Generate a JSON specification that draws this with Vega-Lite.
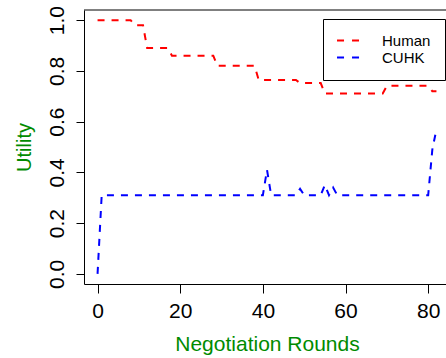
{
  "$schema": "https://vega.github.io/schema/vega-lite/v6.json",
  "width": 362,
  "height": 274,
  "autosize": "none",
  "padding": {"left": 84, "top": 10, "right": 0, "bottom": 74},
  "background": "white",
  "config": {"view": {"stroke": null}, "font": "Liberation Sans"},
  "data": {
    "values": [
      {"r": 0, "a": "Human", "u": 1.0}, {"r": 1, "a": "Human", "u": 1.0}, {"r": 2, "a": "Human", "u": 1.0},
      {"r": 3, "a": "Human", "u": 1.0}, {"r": 4, "a": "Human", "u": 1.0}, {"r": 5, "a": "Human", "u": 1.0},
      {"r": 6, "a": "Human", "u": 1.0}, {"r": 7, "a": "Human", "u": 1.0}, {"r": 8, "a": "Human", "u": 1.0},
      {"r": 9, "a": "Human", "u": 0.98}, {"r": 10, "a": "Human", "u": 0.98}, {"r": 11, "a": "Human", "u": 0.98},
      {"r": 12, "a": "Human", "u": 0.89}, {"r": 13, "a": "Human", "u": 0.89}, {"r": 14, "a": "Human", "u": 0.89},
      {"r": 15, "a": "Human", "u": 0.89}, {"r": 16, "a": "Human", "u": 0.89}, {"r": 17, "a": "Human", "u": 0.89},
      {"r": 18, "a": "Human", "u": 0.86}, {"r": 19, "a": "Human", "u": 0.86}, {"r": 20, "a": "Human", "u": 0.86},
      {"r": 21, "a": "Human", "u": 0.86}, {"r": 22, "a": "Human", "u": 0.86}, {"r": 23, "a": "Human", "u": 0.86},
      {"r": 24, "a": "Human", "u": 0.86}, {"r": 25, "a": "Human", "u": 0.86}, {"r": 26, "a": "Human", "u": 0.86},
      {"r": 27, "a": "Human", "u": 0.86}, {"r": 28, "a": "Human", "u": 0.86}, {"r": 29, "a": "Human", "u": 0.82},
      {"r": 30, "a": "Human", "u": 0.82}, {"r": 31, "a": "Human", "u": 0.82}, {"r": 32, "a": "Human", "u": 0.82},
      {"r": 33, "a": "Human", "u": 0.82}, {"r": 34, "a": "Human", "u": 0.82}, {"r": 35, "a": "Human", "u": 0.82},
      {"r": 36, "a": "Human", "u": 0.82}, {"r": 37, "a": "Human", "u": 0.82}, {"r": 38, "a": "Human", "u": 0.82},
      {"r": 39, "a": "Human", "u": 0.764}, {"r": 40, "a": "Human", "u": 0.764}, {"r": 41, "a": "Human", "u": 0.764},
      {"r": 42, "a": "Human", "u": 0.764}, {"r": 43, "a": "Human", "u": 0.764}, {"r": 44, "a": "Human", "u": 0.764},
      {"r": 45, "a": "Human", "u": 0.764}, {"r": 46, "a": "Human", "u": 0.764}, {"r": 47, "a": "Human", "u": 0.764},
      {"r": 48, "a": "Human", "u": 0.764}, {"r": 49, "a": "Human", "u": 0.752}, {"r": 50, "a": "Human", "u": 0.752},
      {"r": 51, "a": "Human", "u": 0.752}, {"r": 52, "a": "Human", "u": 0.752}, {"r": 53, "a": "Human", "u": 0.752},
      {"r": 54, "a": "Human", "u": 0.752}, {"r": 55, "a": "Human", "u": 0.711}, {"r": 56, "a": "Human", "u": 0.711},
      {"r": 57, "a": "Human", "u": 0.711}, {"r": 58, "a": "Human", "u": 0.711}, {"r": 59, "a": "Human", "u": 0.711},
      {"r": 60, "a": "Human", "u": 0.711}, {"r": 61, "a": "Human", "u": 0.711}, {"r": 62, "a": "Human", "u": 0.711},
      {"r": 63, "a": "Human", "u": 0.711}, {"r": 64, "a": "Human", "u": 0.711}, {"r": 65, "a": "Human", "u": 0.711},
      {"r": 66, "a": "Human", "u": 0.711}, {"r": 67, "a": "Human", "u": 0.711}, {"r": 68, "a": "Human", "u": 0.711},
      {"r": 69, "a": "Human", "u": 0.711}, {"r": 70, "a": "Human", "u": 0.741}, {"r": 71, "a": "Human", "u": 0.741},
      {"r": 72, "a": "Human", "u": 0.741}, {"r": 73, "a": "Human", "u": 0.741}, {"r": 74, "a": "Human", "u": 0.741},
      {"r": 75, "a": "Human", "u": 0.741}, {"r": 76, "a": "Human", "u": 0.741}, {"r": 77, "a": "Human", "u": 0.741},
      {"r": 78, "a": "Human", "u": 0.741}, {"r": 79, "a": "Human", "u": 0.741}, {"r": 80, "a": "Human", "u": 0.741},
      {"r": 81, "a": "Human", "u": 0.72}, {"r": 82, "a": "Human", "u": 0.72},

      {"r": 0, "a": "CUHK", "u": 0.0}, {"r": 1, "a": "CUHK", "u": 0.31}, {"r": 2, "a": "CUHK", "u": 0.31},
      {"r": 3, "a": "CUHK", "u": 0.31}, {"r": 4, "a": "CUHK", "u": 0.31}, {"r": 5, "a": "CUHK", "u": 0.31},
      {"r": 6, "a": "CUHK", "u": 0.31}, {"r": 7, "a": "CUHK", "u": 0.31}, {"r": 8, "a": "CUHK", "u": 0.31},
      {"r": 9, "a": "CUHK", "u": 0.31}, {"r": 10, "a": "CUHK", "u": 0.31}, {"r": 11, "a": "CUHK", "u": 0.31},
      {"r": 12, "a": "CUHK", "u": 0.31}, {"r": 13, "a": "CUHK", "u": 0.31}, {"r": 14, "a": "CUHK", "u": 0.31},
      {"r": 15, "a": "CUHK", "u": 0.31}, {"r": 16, "a": "CUHK", "u": 0.31}, {"r": 17, "a": "CUHK", "u": 0.31},
      {"r": 18, "a": "CUHK", "u": 0.31}, {"r": 19, "a": "CUHK", "u": 0.31}, {"r": 20, "a": "CUHK", "u": 0.31},
      {"r": 21, "a": "CUHK", "u": 0.31}, {"r": 22, "a": "CUHK", "u": 0.31}, {"r": 23, "a": "CUHK", "u": 0.31},
      {"r": 24, "a": "CUHK", "u": 0.31}, {"r": 25, "a": "CUHK", "u": 0.31}, {"r": 26, "a": "CUHK", "u": 0.31},
      {"r": 27, "a": "CUHK", "u": 0.31}, {"r": 28, "a": "CUHK", "u": 0.31}, {"r": 29, "a": "CUHK", "u": 0.31},
      {"r": 30, "a": "CUHK", "u": 0.31}, {"r": 31, "a": "CUHK", "u": 0.31}, {"r": 32, "a": "CUHK", "u": 0.31},
      {"r": 33, "a": "CUHK", "u": 0.31}, {"r": 34, "a": "CUHK", "u": 0.31}, {"r": 35, "a": "CUHK", "u": 0.31},
      {"r": 36, "a": "CUHK", "u": 0.31}, {"r": 37, "a": "CUHK", "u": 0.31}, {"r": 38, "a": "CUHK", "u": 0.31},
      {"r": 39, "a": "CUHK", "u": 0.31}, {"r": 40, "a": "CUHK", "u": 0.31}, {"r": 41, "a": "CUHK", "u": 0.41},
      {"r": 42, "a": "CUHK", "u": 0.31}, {"r": 43, "a": "CUHK", "u": 0.31}, {"r": 44, "a": "CUHK", "u": 0.31},
      {"r": 45, "a": "CUHK", "u": 0.31}, {"r": 46, "a": "CUHK", "u": 0.31}, {"r": 47, "a": "CUHK", "u": 0.31},
      {"r": 48, "a": "CUHK", "u": 0.31}, {"r": 49, "a": "CUHK", "u": 0.335}, {"r": 50, "a": "CUHK", "u": 0.31},
      {"r": 51, "a": "CUHK", "u": 0.31}, {"r": 52, "a": "CUHK", "u": 0.31}, {"r": 53, "a": "CUHK", "u": 0.31},
      {"r": 54, "a": "CUHK", "u": 0.31}, {"r": 55, "a": "CUHK", "u": 0.35}, {"r": 56, "a": "CUHK", "u": 0.31},
      {"r": 57, "a": "CUHK", "u": 0.34}, {"r": 58, "a": "CUHK", "u": 0.31}, {"r": 59, "a": "CUHK", "u": 0.31},
      {"r": 60, "a": "CUHK", "u": 0.31}, {"r": 61, "a": "CUHK", "u": 0.31}, {"r": 62, "a": "CUHK", "u": 0.31},
      {"r": 63, "a": "CUHK", "u": 0.31}, {"r": 64, "a": "CUHK", "u": 0.31}, {"r": 65, "a": "CUHK", "u": 0.31},
      {"r": 66, "a": "CUHK", "u": 0.31}, {"r": 67, "a": "CUHK", "u": 0.31}, {"r": 68, "a": "CUHK", "u": 0.31},
      {"r": 69, "a": "CUHK", "u": 0.31}, {"r": 70, "a": "CUHK", "u": 0.31}, {"r": 71, "a": "CUHK", "u": 0.31},
      {"r": 72, "a": "CUHK", "u": 0.31}, {"r": 73, "a": "CUHK", "u": 0.31}, {"r": 74, "a": "CUHK", "u": 0.31},
      {"r": 75, "a": "CUHK", "u": 0.31}, {"r": 76, "a": "CUHK", "u": 0.31}, {"r": 77, "a": "CUHK", "u": 0.31},
      {"r": 78, "a": "CUHK", "u": 0.31}, {"r": 79, "a": "CUHK", "u": 0.31}, {"r": 80, "a": "CUHK", "u": 0.31},
      {"r": 81, "a": "CUHK", "u": 0.49}, {"r": 82, "a": "CUHK", "u": 0.57}
    ]
  },
  "layer": [
    {
      "mark": {"type": "line", "strokeDash": [7, 7], "strokeWidth": 2, "strokeCap": "butt", "clip": true},
      "encoding": {
        "x": {
          "field": "r", "type": "quantitative",
          "scale": {"domain": [-3.28, 84.31], "nice": false, "zero": false},
          "axis": {
            "values": [0, 20, 40, 60, 80], "title": "Negotiation Rounds", "grid": false,
            "tickSize": 9, "tickColor": "black", "domainColor": "black",
            "labelFontSize": 21, "labelColor": "black", "labelPadding": 7, "labelFlush": false, "labelOverlap": false,
            "titleFontSize": 21, "titleColor": "#008B00", "titleFontWeight": "normal",
            "titleX": 183, "titleY": 66, "titleAlign": "center", "titleBaseline": "alphabetic"
          }
        },
        "y": {
          "field": "u", "type": "quantitative",
          "scale": {"domain": [-0.04, 1.04], "nice": false, "zero": false},
          "axis": {
            "values": [0, 0.2, 0.4, 0.6, 0.8, 1.0], "format": ".1f", "title": "Utility", "grid": false,
            "tickSize": 8, "tickColor": "black", "domainColor": "black",
            "labelAngle": 270, "labelAlign": "center", "labelBaseline": "alphabetic", "labelPadding": 13,
            "labelFontSize": 21, "labelColor": "black", "labelFlush": false, "labelOverlap": false,
            "titleFontSize": 20, "titleColor": "#008B00", "titleFontWeight": "normal",
            "titleAngle": 270, "titleX": -54, "titleY": 137, "titleAlign": "center", "titleBaseline": "alphabetic"
          }
        },
        "color": {
          "field": "a", "type": "nominal",
          "scale": {"domain": ["Human", "CUHK"], "range": ["#ff0000", "#0000ff"]},
          "legend": {
            "title": null, "orient": "none", "legendX": 239, "legendY": 9, "direction": "vertical",
            "strokeColor": "black", "fillColor": "white", "padding": 14,
            "symbolType": "M-1.36,0H2.64", "symbolSize": 121, "symbolStrokeWidth": 2, "symbolDash": [7, 8],
            "symbolFillColor": "transparent",
            "labelFontSize": 15, "labelColor": "black", "labelOffset": 30, "rowPadding": 1, "labelLimit": 200
          }
        }
      }
    },
    {
      "data": {"values": [{}]},
      "mark": {"type": "rule", "color": "black", "strokeWidth": 1},
      "encoding": {"y": {"datum": 1.04}}
    }
  ]
}
